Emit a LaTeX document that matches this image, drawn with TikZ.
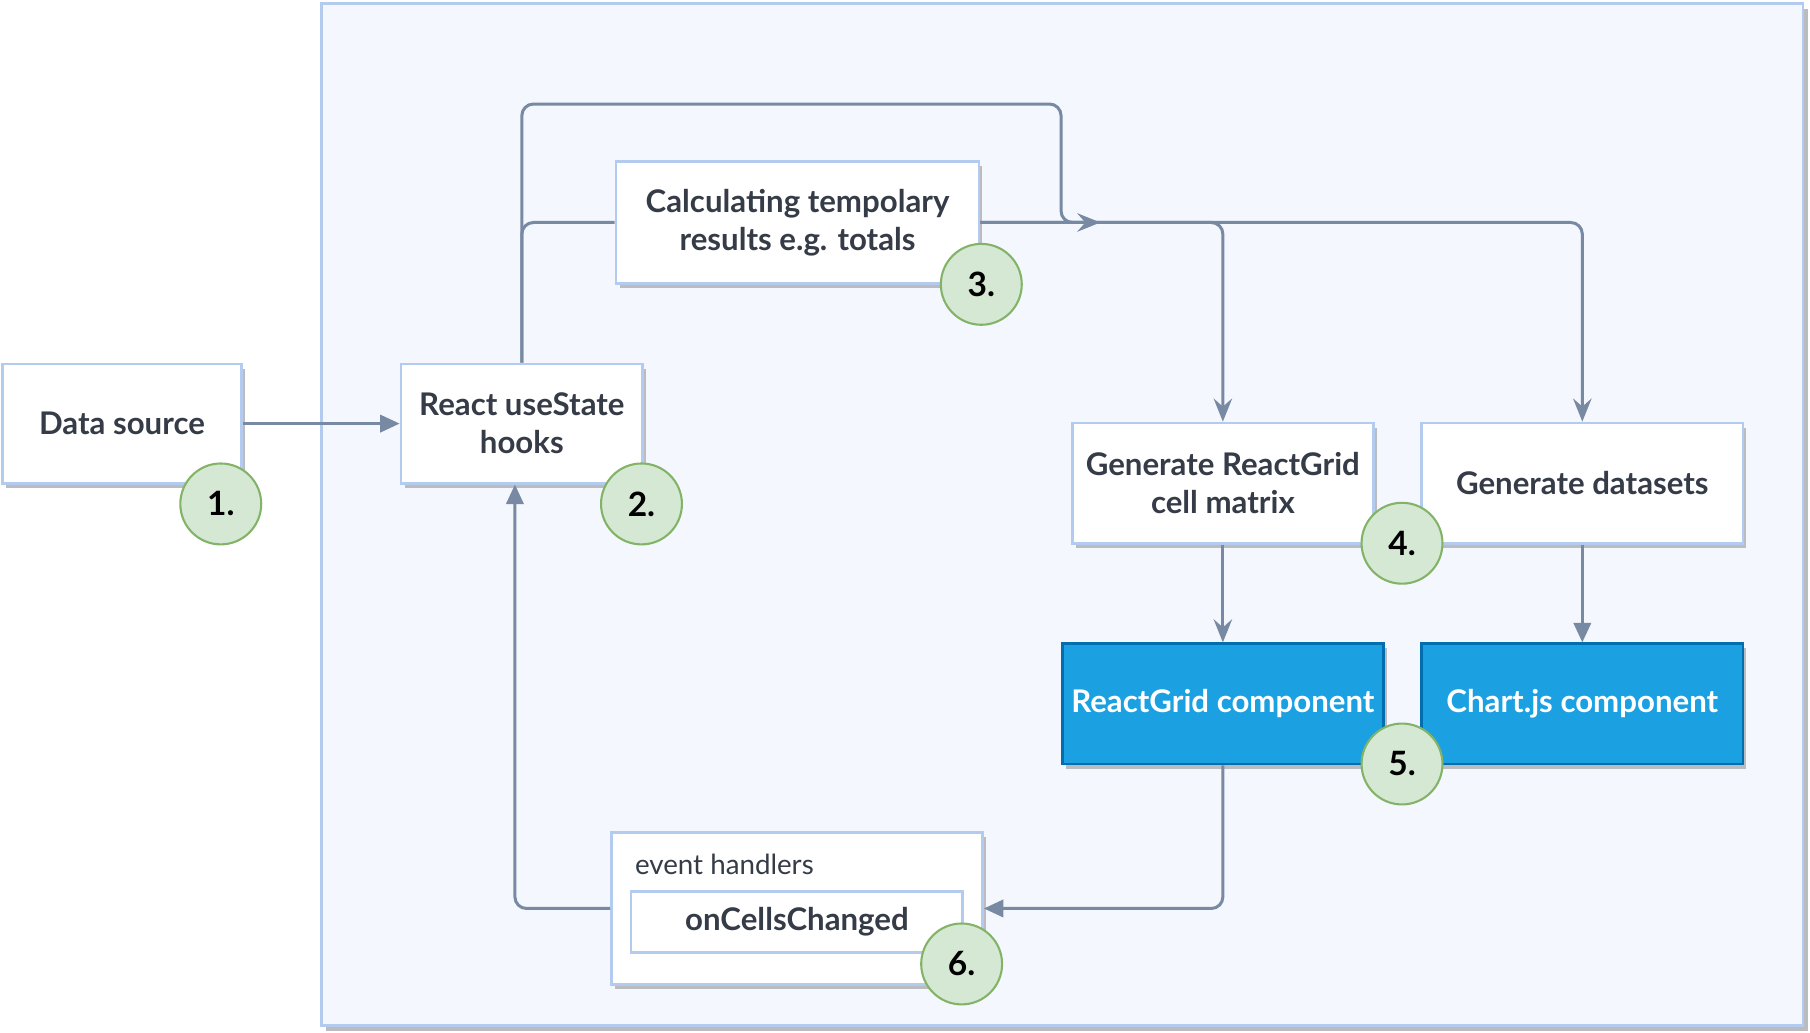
\documentclass[tikz,border=0pt]{standalone}
\usepackage{fontspec}
\setmainfont{Lato}
\usetikzlibrary{arrows.meta,positioning,shadows}
\definecolor{txt}{HTML}{353C48}
\definecolor{boxline}{HTML}{B3CBEE}
\definecolor{contfill}{HTML}{F4F7FD}
\definecolor{shade}{HTML}{BBBCC0}
\definecolor{edgegray}{HTML}{788AA3}
\definecolor{compfill}{HTML}{1BA1E2}
\definecolor{compline}{HTML}{006EAF}
\definecolor{badgefill}{HTML}{D5E8D4}
\definecolor{badgeline}{HTML}{82B366}
\tikzstyle{plainbox}=[draw=boxline,fill=white,line width=1.2pt,text=txt,align=center,inner sep=0pt,font=\fontsize{13.5}{16.5}\selectfont\bfseries]
\tikzstyle{box}=[plainbox,drop shadow={shadow xshift=1.5pt,shadow yshift=-2pt,fill=shade,opacity=1}]
\tikzstyle{comp}=[box,draw=compline,fill=compfill,text=white]
\tikzstyle{badge}=[circle,draw=badgeline,fill=badgefill,line width=0.9pt,minimum size=35pt,inner sep=0pt,font=\fontsize{14.5}{16}\selectfont\bfseries]
\tikzstyle{edge}=[draw=edgegray,line width=1.3pt,rounded corners=5pt]
\tikzstyle{blockarrow}=[-{Triangle[length=8.5pt,width=7.5pt]}]
\tikzstyle{openarrow}=[-{Stealth[length=10pt,width=8pt,inset=3.5pt]}]

\begin{document}
\begin{tikzpicture}[x=0.5pt,y=-0.5pt]
\useasboundingbox (0,0) rectangle (1566,893);
\node [draw=boxline,fill=contfill,line width=1.2pt,minimum width=641pt,minimum height=442pt,drop shadow={shadow xshift=2pt,shadow yshift=-2.5pt,fill=shade,opacity=1}] (area) at (919,445) {};

\node [box,minimum width=103.5pt,minimum height=51.5pt] (src) at (105.5,366.5) {Data source};
\node [box,minimum width=104.5pt,minimum height=51.5pt] (hooks) at (451.5,366.5) {React useState\\hooks};
\node [box,minimum width=157pt,minimum height=52.5pt] (calc) at (690,192.5) {Calculating tempolary\\results e.g. totals};
\node [box,minimum width=130pt,minimum height=52pt] (gengrid) at (1058,418) {Generate ReactGrid\\cell matrix};
\node [box,minimum width=139pt,minimum height=52pt] (gendata) at (1369,418) {Generate datasets};
\node [comp,minimum width=139pt,minimum height=52pt] (grid) at (1058,609) {ReactGrid component};
\node [comp,minimum width=139pt,minimum height=52pt] (chart) at (1369,609) {Chart.js component};
\node [box,minimum width=160.5pt,minimum height=66pt] (handlers) at (689.5,786) {};
\node [anchor=west,inner sep=0pt,text=txt,font=\fontsize{12}{14}\selectfont] (hlabel) at (549,748) {event handlers};
\node [plainbox,minimum width=143.5pt,minimum height=26.5pt] (cells) at (689.5,797.5) {onCellsChanged};
\coordinate (merge) at (952,192.5);

\draw [edge,blockarrow] (src.east) -- (hooks.west);
\draw [edge] (hooks.north) |- (calc.west);
\draw [edge,openarrow] (hooks.north) |- (918,90) |- (merge);
\draw [edge,openarrow] (calc.east) -| (gengrid.north);
\draw [edge,openarrow] (calc.east) -| (gendata.north);
\draw [edge,openarrow] (gengrid.south) -- (grid.north);
\draw [edge,blockarrow] (gendata.south) -- (chart.north);
\draw [edge,blockarrow] (grid.south) |- (handlers.east);
\draw [edge,blockarrow] (handlers.west) -| ([xshift=-3pt]hooks.south);

\foreach \n/\x/\y in {1/191/436,2/555/436,3/849/246,4/1213/470,5/1213/661,6/832/834}
  \node [badge] (b\n) at (\x,\y) {\n.};
\end{tikzpicture}
\end{document}
